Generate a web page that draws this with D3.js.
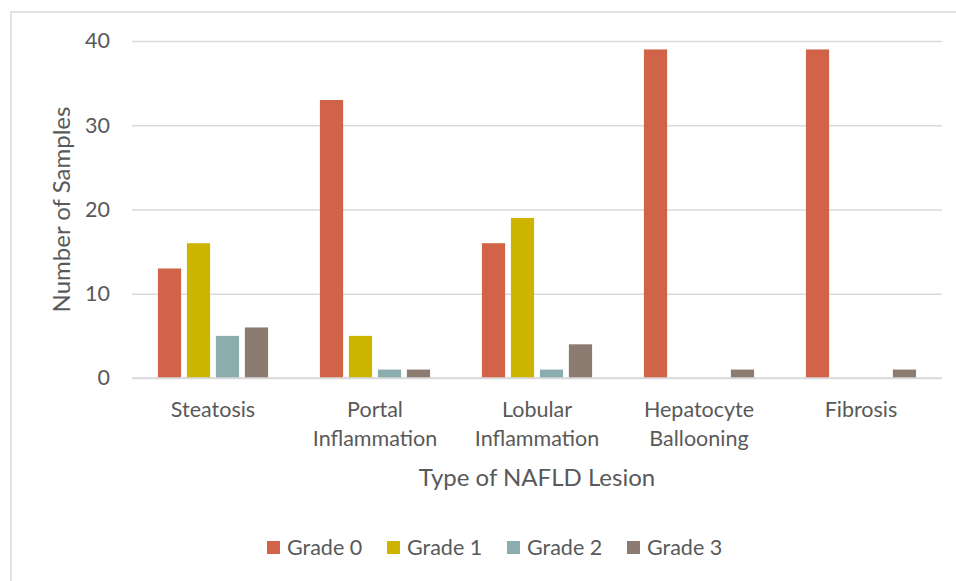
<!DOCTYPE html>
<html>
<head>
<meta charset="utf-8">
<script src="https://cdn.jsdelivr.net/npm/d3@7"></script>
<style>
  body { margin: 0; background: #fff; }
  svg { display: block; }
  text { font-family: Lato, "Open Sans", sans-serif; fill: #595959; }
</style>
</head>
<body>
<svg id="chart" width="956" height="581"></svg>
<script>
const categories = [["Steatosis"], ["Portal", "Inflammation"], ["Lobular", "Inflammation"], ["Hepatocyte", "Ballooning"], ["Fibrosis"]];
const seriesNames = ["Grade 0", "Grade 1", "Grade 2", "Grade 3"];
const grade0 = [13, 33, 16, 39, 39];
const grade1 = [16, 5, 19, 0, 0];
const grade2 = [5, 1, 1, 0, 0];
const grade3 = [6, 1, 4, 1, 1];
const colors = ["#D16349", "#CCB400", "#8CADAE", "#8C7B70"];
const yTicks = [0, 10, 20, 30, 40];
const yTitle = "Number of Samples";
const xTitle = "Type of NAFLD Lesion";

(function () {
const series = [grade0, grade1, grade2, grade3];
const svg = d3.select("#chart");

// outer border
svg.append("rect").attr("x", 11).attr("y", 12).attr("width", 960).attr("height", 600)
  .attr("fill", "none").attr("stroke", "#d9d9d9").attr("stroke-width", 1.5);

const pL = 132, pR = 942, pT = 41, pB = 378;
const catIdx = categories.map((d, i) => i);
const x0 = d3.scaleBand().domain(catIdx).range([pL, pR]).paddingInner(0.32).paddingOuter(0.16);
const x1 = d3.scaleBand().domain(d3.range(series.length)).range([0, x0.bandwidth()]).paddingInner(0.2);
const y = d3.scaleLinear().domain([0, 40]).range([pB, pT]);

// gridlines
const yAxis = d3.axisLeft(y).tickValues(yTicks).tickSize(-(pR - pL)).tickPadding(22);
const gy = svg.append("g").attr("transform", `translate(${pL},0)`).call(yAxis);
gy.select(".domain").remove();
gy.selectAll(".tick line").attr("stroke", "#d9d9d9").attr("stroke-width", 1.5);
gy.selectAll(".tick text").style("font-size", "21.5px").style("fill", "#595959").style("font-family", "Lato, sans-serif");

// bars
const groups = svg.append("g").selectAll("g").data(catIdx).join("g")
  .attr("transform", d => `translate(${x0(d)},0)`);
groups.selectAll("rect")
  .data(ci => series.map((s, si) => ({ si, v: s[ci] })))
  .join("rect")
  .attr("x", d => x1(d.si))
  .attr("width", x1.bandwidth())
  .attr("y", d => y(d.v))
  .attr("height", d => y(0) - y(d.v))
  .attr("fill", d => colors[d.si]);

// baseline
svg.append("line").attr("x1", pL).attr("x2", pR).attr("y1", y(0)).attr("y2", y(0))
  .attr("stroke", "#d9d9d9").attr("stroke-width", 1.5);

// category labels
const xAxis = d3.axisBottom(x0).tickSize(0).tickFormat(() => "");
const gx = svg.append("g").attr("transform", `translate(0,${pB})`).call(xAxis);
gx.select(".domain").remove();
gx.selectAll(".tick").each(function (d) {
  const t = d3.select(this).append("text").attr("text-anchor", "middle")
    .style("font-size", "21.5px").style("fill", "#595959").style("font-family", "Lato, sans-serif").attr("y", 39);
  categories[d].forEach((line, k) => {
    t.append("tspan").attr("x", 0).attr("dy", k === 0 ? 0 : 29).text(line);
  });
});

// axis titles
svg.append("text").attr("transform", `translate(70,${(pT + pB) / 2}) rotate(-90)`)
  .attr("text-anchor", "middle").style("font-size", "24px").text(yTitle);
svg.append("text").attr("x", (pL + pR) / 2).attr("y", 486)
  .attr("text-anchor", "middle").style("font-size", "24px").text(xTitle);

// legend
const legItems = svg.append("g").selectAll("g").data(seriesNames).join("g")
  .attr("transform", (d, i) => `translate(${267 + i * 120},541)`);
legItems.append("rect").attr("width", 13).attr("height", 13).attr("fill", (d, i) => colors[i]);
legItems.append("text").attr("x", 20).attr("y", 14).style("font-size", "21.5px").text(d => d);
})();
</script>
</body>
</html>
